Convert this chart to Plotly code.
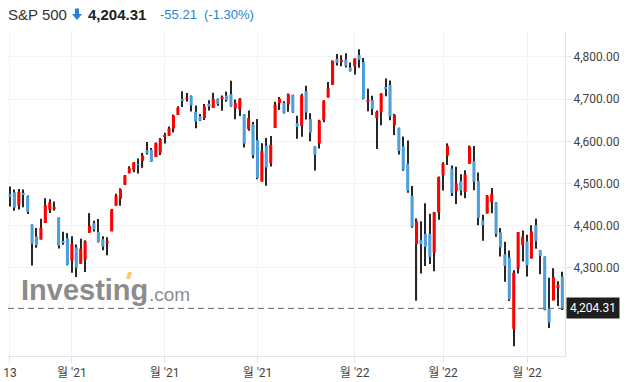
import plotly.graph_objects as go

dates = [
    "2021-09-13","2021-09-14","2021-09-15","2021-09-16","2021-09-17","2021-09-20","2021-09-21","2021-09-22","2021-09-23","2021-09-24",
    "2021-09-27","2021-09-28","2021-09-29","2021-09-30","2021-10-01","2021-10-04","2021-10-05","2021-10-06","2021-10-07","2021-10-08",
    "2021-10-11","2021-10-12","2021-10-13","2021-10-14","2021-10-15","2021-10-18","2021-10-19","2021-10-20","2021-10-21","2021-10-22",
    "2021-10-25","2021-10-26","2021-10-27","2021-10-28","2021-10-29","2021-11-01","2021-11-02","2021-11-03","2021-11-04","2021-11-05",
    "2021-11-08","2021-11-09","2021-11-10","2021-11-11","2021-11-12","2021-11-15","2021-11-16","2021-11-17","2021-11-18","2021-11-19",
    "2021-11-22","2021-11-23","2021-11-24","2021-11-26","2021-11-29","2021-11-30","2021-12-01","2021-12-02","2021-12-03","2021-12-06",
    "2021-12-07","2021-12-08","2021-12-09","2021-12-10","2021-12-13","2021-12-14","2021-12-15","2021-12-16","2021-12-17","2021-12-20",
    "2021-12-21","2021-12-22","2021-12-23","2021-12-27","2021-12-28","2021-12-29","2021-12-30","2021-12-31","2022-01-03","2022-01-04",
    "2022-01-05","2022-01-06","2022-01-07","2022-01-10","2022-01-11","2022-01-12","2022-01-13","2022-01-14","2022-01-18","2022-01-19",
    "2022-01-20","2022-01-21","2022-01-24","2022-01-25","2022-01-26","2022-01-27","2022-01-28","2022-01-31","2022-02-01","2022-02-02",
    "2022-02-03","2022-02-04","2022-02-07","2022-02-08","2022-02-09","2022-02-10","2022-02-11","2022-02-14","2022-02-15","2022-02-16",
    "2022-02-17","2022-02-18","2022-02-22","2022-02-23","2022-02-24","2022-02-25","2022-02-28","2022-03-01","2022-03-02","2022-03-03",
    "2022-03-04","2022-03-07","2022-03-08","2022-03-09","2022-03-10","2022-03-11",
]

opens = [
    4474.8,4479.3,4447.5,4477.1,4469.7,4403.0,4374.5,4367.4,4406.8,4438.0,
    4442.1,4419.5,4362.4,4370.7,4317.2,4348.8,4309.9,4319.6,4383.7,4406.5,
    4385.4,4368.3,4358.0,4386.8,4447.7,4463.7,4497.3,4524.4,4532.2,4546.1,
    4553.7,4578.7,4580.2,4562.8,4572.9,4610.6,4613.3,4630.7,4662.9,4699.3,
    4701.5,4707.3,4670.3,4659.4,4655.2,4689.3,4679.4,4701.5,4700.7,4708.4,
    4712.0,4678.5,4675.8,4664.6,4628.8,4640.3,4602.8,4504.7,4589.5,4548.4,
    4632.0,4690.9,4691.0,4687.6,4710.3,4643.0,4636.5,4719.1,4652.5,4587.9,
    4595.0,4650.4,4704.0,4734.0,4795.5,4788.6,4794.2,4775.2,4778.1,4804.5,
    4788.0,4693.4,4697.7,4655.3,4669.1,4728.6,4733.6,4638.0,4632.2,4588.0,
    4547.4,4471.4,4356.3,4366.6,4380.6,4380.6,4336.2,4431.8,4519.6,4566.4,
    4535.4,4482.8,4505.8,4480.0,4547.0,4553.2,4506.3,4412.6,4429.3,4455.8,
    4456.1,4384.6,4332.7,4324.9,4155.8,4298.4,4354.2,4363.1,4322.6,4401.3,
    4342.1,4327.0,4202.7,4223.1,4252.6,4279.5,
]

highs = [
    4493.0,4485.7,4486.9,4485.9,4471.5,4403.0,4394.9,4416.8,4465.4,4463.1,
    4457.3,4419.5,4385.6,4382.6,4375.2,4355.5,4369.2,4365.6,4430.0,4412.0,
    4415.9,4374.9,4372.9,4439.7,4475.8,4488.8,4520.4,4540.9,4551.4,4559.7,
    4572.6,4598.5,4584.6,4597.6,4608.1,4620.3,4635.2,4663.5,4683.0,4718.5,
    4714.9,4708.5,4684.9,4664.6,4688.5,4697.4,4715.0,4701.5,4708.8,4717.8,
    4743.8,4699.4,4702.9,4664.6,4673.0,4646.0,4652.9,4595.5,4608.0,4612.6,
    4694.0,4705.1,4695.3,4713.6,4710.3,4660.5,4712.6,4732.0,4666.7,4587.9,
    4651.1,4697.7,4740.7,4791.5,4807.0,4804.1,4808.9,4786.8,4796.6,4818.6,
    4797.7,4725.0,4708.0,4673.0,4714.1,4748.8,4744.1,4665.1,4632.2,4611.6,
    4602.1,4494.5,4417.4,4411.0,4453.2,4428.7,4432.7,4516.9,4550.5,4595.3,
    4542.9,4539.7,4521.9,4531.3,4590.0,4588.9,4526.3,4426.2,4472.8,4489.6,
    4456.1,4394.6,4362.1,4341.5,4294.7,4385.3,4388.8,4378.5,4401.5,4416.8,
    4342.1,4327.0,4276.9,4299.4,4268.3,4291.0,
]

lows = [
    4445.7,4435.5,4438.4,4443.8,4427.8,4305.9,4348.0,4367.4,4406.8,4430.3,
    4436.2,4346.3,4355.1,4306.2,4288.5,4278.9,4309.9,4290.5,4383.7,4386.2,
    4360.6,4342.1,4329.9,4386.8,4447.7,4447.5,4496.4,4524.4,4526.9,4524.0,
    4537.4,4569.2,4551.7,4562.8,4567.6,4595.1,4613.3,4621.2,4662.6,4681.3,
    4694.4,4670.9,4630.9,4648.3,4650.8,4672.9,4679.4,4684.4,4672.8,4694.2,
    4682.2,4652.7,4659.9,4585.4,4625.3,4560.0,4510.3,4504.7,4495.1,4540.5,
    4632.0,4674.5,4666.0,4670.2,4667.6,4606.5,4611.2,4651.9,4600.2,4531.1,
    4583.2,4645.5,4704.0,4734.0,4780.0,4778.1,4775.3,4765.8,4758.2,4774.3,
    4699.4,4671.3,4662.7,4582.2,4638.3,4706.7,4650.3,4614.8,4568.7,4530.2,
    4478.0,4395.3,4222.6,4287.1,4304.8,4309.5,4292.5,4414.0,4483.5,4544.3,
    4470.4,4451.5,4471.5,4465.4,4547.0,4484.3,4401.4,4364.8,4429.3,4429.7,
    4373.8,4327.2,4267.1,4221.5,4114.7,4286.8,4315.1,4279.5,4322.6,4345.6,
    4285.0,4199.9,4157.9,4223.1,4209.8,4200.5,
]

closes = [
    4468.7,4443.1,4480.7,4473.8,4433.0,4357.7,4354.2,4395.6,4449.0,4455.5,
    4443.1,4352.6,4359.5,4307.5,4357.0,4300.5,4345.7,4363.6,4399.8,4391.3,
    4361.2,4350.7,4363.8,4438.3,4471.4,4486.5,4519.6,4536.2,4549.8,4544.9,
    4566.5,4574.8,4551.7,4596.4,4605.4,4613.7,4630.7,4660.6,4680.1,4697.5,
    4701.7,4685.3,4646.7,4649.3,4682.9,4682.8,4700.9,4688.7,4704.5,4698.0,
    4682.9,4690.7,4701.5,4594.6,4655.3,4567.0,4513.0,4577.1,4538.4,4591.7,
    4686.8,4701.2,4667.5,4712.0,4669.0,4634.1,4709.9,4668.7,4620.6,4568.0,
    4649.2,4696.6,4725.8,4791.2,4786.4,4793.1,4778.7,4766.2,4796.6,4793.5,
    4700.6,4696.1,4677.0,4670.3,4713.1,4726.4,4659.0,4662.9,4577.1,4532.8,
    4482.7,4397.9,4410.1,4356.5,4349.9,4326.5,4431.9,4515.6,4546.5,4589.4,
    4477.4,4500.5,4483.9,4521.5,4587.2,4504.1,4418.6,4401.7,4471.1,4475.0,
    4380.3,4348.9,4304.8,4225.5,4288.7,4384.7,4373.9,4306.3,4386.5,4363.5,
    4328.9,4201.1,4170.7,4277.9,4259.5,4204.3,
]

tick_dates = ["2021-09-13", "2021-10-01", "2021-11-01", "2021-12-01", "2022-01-03", "2022-02-01", "2022-03-01"]
tick_text = ["13", "월 '21", "월 '21", "월 '21", "월 '22", "월 '22", "월 '22"]
price_ticks = [4300, 4400, 4500, 4600, 4700, 4800]

last_price = 4204.31
change = -55.21
change_pct = -1.30
title = "S&P 500"

UP = "#ff0000"
DOWN = "#4e9fda"
WICK = "#262626"
BLUE_TXT = "#2a7fd6"

body_base = [min(o, c) for o, c in zip(opens, closes)]
body_h = [max(abs(c - o), 0.9) for o, c in zip(opens, closes)]
body_col = [UP if c >= o else DOWN for o, c in zip(opens, closes)]
wick_h = [h - l for h, l in zip(highs, lows)]

fig = go.Figure()
fig.add_trace(go.Bar(x=dates, y=wick_h, base=lows, width=0.26,
                     marker=dict(color=WICK, line=dict(width=0)), hoverinfo="skip"))
fig.add_trace(go.Bar(x=dates, y=body_h, base=body_base, width=0.7,
                     marker=dict(color=body_col, line=dict(width=0)), hoverinfo="skip"))

# pixel geometry of the plot area
L, R, T, B = 8, 565, 32, 356
W, H = 628, 382


def pxx(x):
    return (x - L) / (R - L)


def pxy(y):
    return (B - y) / (B - T)


font_main = "Roboto, Noto Sans CJK KR, Arial, sans-serif"
font_head = "Liberation Sans, Arial, sans-serif"

annotations = [
    dict(text=title, x=pxx(6), y=pxy(15), xref="paper", yref="paper", xanchor="left", yanchor="middle",
         showarrow=False, font=dict(family=font_head, size=15, color="#333333")),
    dict(text="<b>{:,.2f}</b>".format(last_price), x=pxx(86), y=pxy(15), xref="paper", yref="paper",
         xanchor="left", yanchor="middle", showarrow=False,
         font=dict(family=font_head, size=15, color="#222222")),
    dict(text="{:.2f}".format(change), x=pxx(158), y=pxy(15), xref="paper", yref="paper",
         xanchor="left", yanchor="middle", showarrow=False,
         font=dict(family=font_head, size=13, color=BLUE_TXT)),
    dict(text="({:.2f}%)".format(change_pct), x=pxx(202), y=pxy(15), xref="paper", yref="paper",
         xanchor="left", yanchor="middle", showarrow=False,
         font=dict(family=font_head, size=13, color=BLUE_TXT)),
    # watermark
    dict(text="<b>Investing</b>", x=pxx(19), y=pxy(290), xref="paper", yref="paper",
         xanchor="left", yanchor="middle", showarrow=False,
         font=dict(family="Liberation Sans, Arial, sans-serif", size=29, color="#8c8c8c")),
    dict(text=".com", x=pxx(147), y=pxy(294), xref="paper", yref="paper",
         xanchor="left", yanchor="middle", showarrow=False,
         font=dict(family="Liberation Sans, Arial, sans-serif", size=19, color="#8c8c8c")),
    # current price badge
    dict(text="{:,.2f}".format(last_price), x=1, y=last_price, xref="paper", yref="y",
         xanchor="left", yanchor="middle", showarrow=False, bgcolor="#1e1e1e", borderpad=3,
         xshift=1, font=dict(family=font_main, size=12, color="#ffffff")),
]


def arrow_path():
    pts = [(75, 8.5), (79, 8.5), (79, 14), (82, 14), (77, 20), (72, 14), (75, 14)]
    s = "M " + " L ".join("{:.4f},{:.4f}".format(pxx(a), pxy(b)) for a, b in pts) + " Z"
    return s


def accent_path():
    pts = [(126, 279), (128, 272), (132, 272), (130, 279)]
    return "M " + " L ".join("{:.4f},{:.4f}".format(pxx(a), pxy(b)) for a, b in pts) + " Z"


shapes = [
    dict(type="line", xref="paper", yref="y", x0=0, x1=1, y0=last_price, y1=last_price,
         line=dict(color="#666666", width=1, dash="6px,4px")),
    dict(type="path", xref="paper", yref="paper", path=arrow_path(),
         fillcolor=BLUE_TXT, line=dict(width=0)),
    dict(type="path", xref="paper", yref="paper", path=accent_path(),
         fillcolor="#f7c878", line=dict(width=0)),
]

fig.update_layout(
    width=W, height=H,
    margin=dict(l=L, r=W - R, t=T, b=H - B, pad=0, autoexpand=False),
    paper_bgcolor="#ffffff", plot_bgcolor="#ffffff",
    showlegend=False, barmode="overlay",
    font=dict(family=font_main, size=12, color="#333333"),
    annotations=annotations, shapes=shapes,
    xaxis=dict(type="category", categoryorder="array", categoryarray=dates, automargin=False,
               range=[-0.45, 125.6], tickmode="array", tickvals=tick_dates, ticktext=tick_text,
               showgrid=True, gridcolor="#f3f3f3", gridwidth=1,
               showline=True, linecolor="#e0e3eb", linewidth=1,
               ticks="outside", ticklen=6, tickcolor="#e0e3eb",
               tickfont=dict(family=font_main, size=12, color="#444444"), tickangle=0),
    yaxis=dict(side="right", range=[4091.4, 4859.2], tickmode="array", tickvals=price_ticks, automargin=False,
               tickformat=",.2f", showgrid=True, gridcolor="#f3f3f3", gridwidth=1,
               showline=True, linecolor="#e0e3eb", linewidth=1, zeroline=False,
               ticks="outside", ticklen=5, tickcolor="#e0e3eb",
               tickfont=dict(family=font_main, size=12, color="#444444")),
)

fig.write_html(
    "out.html",
    config={"displayModeBar": False},
    post_script="document.body.style.margin='0';document.body.style.padding='0';document.body.style.overflow='hidden';",
)
